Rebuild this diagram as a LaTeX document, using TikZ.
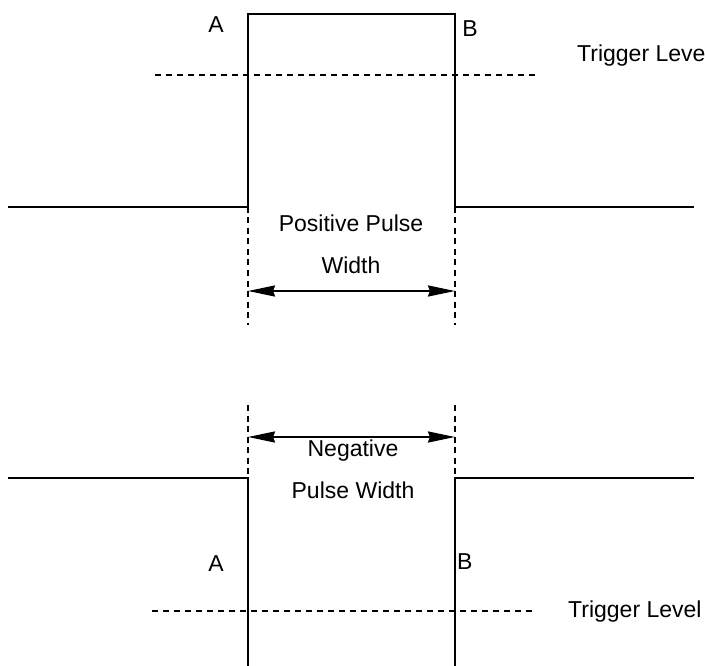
\documentclass[tikz,border=0pt]{standalone}
\usepackage{fontspec}
\setmainfont{Liberation Sans}
\usetikzlibrary{arrows.meta}
\begin{document}
\begin{tikzpicture}[x=1pt,y=-1pt,
  wave/.style={line width=2pt, line join=miter},
  trig/.style={line width=1.5pt, dash pattern=on 6pt off 5pt},
  guide/.style={line width=1.5pt, dash pattern=on 6pt off 4.5pt},
  meas/.style={line width=2.2pt, {Stealth[length=27pt,width=11pt,inset=2pt]}-{Stealth[length=27pt,width=11pt,inset=2pt]}},
  lbl/.style={font=\fontsize{23}{27}\selectfont, inner sep=0pt}]
\useasboundingbox (0,0) rectangle (705,666);
% top (positive pulse)
\coordinate (tl) at (8,207);
\coordinate (ta0) at (248,207);
\coordinate (ta1) at (248,14);
\coordinate (tb1) at (455,14);
\coordinate (tb0) at (455,207);
\coordinate (tr) at (694,207);
\draw[wave] (tl) -- (ta0) -- (ta1) -- (tb1) -- (tb0) -- (tr);
\coordinate (tt0) at (155,75);
\coordinate (tt1) at (537,75);
\draw[trig] (tt0) -- (tt1);
\coordinate (tga) at (248,325);
\coordinate (tgb) at (455,325);
\draw[guide] (ta0) -- (tga);
\draw[guide] (tb0) -- (tgb);
\coordinate (pa) at (248,291);
\coordinate (pb) at (455,291);
\draw[meas] (pa) -- (pb);
\node[lbl, anchor=base] (tA) at (216,33) {A};
\node[lbl, anchor=base] (tB) at (470,37) {B};
\node[lbl, anchor=base west] (tT) at (577,62) {Trigger Leve};
\node[lbl, anchor=base] (pp1) at (351,232) {Positive Pulse};
\node[lbl, anchor=base] (pp2) at (351,273) {Width};
% bottom (negative pulse)
\coordinate (bl) at (8,478);
\coordinate (ba0) at (248,478);
\coordinate (ba1) at (248,666);
\coordinate (bb1) at (455,666);
\coordinate (bb0) at (455,478);
\coordinate (br) at (694,478);
\draw[wave] (bl) -- (ba0) -- (ba1);
\draw[wave] (bb1) -- (bb0) -- (br);
\coordinate (bt0) at (152,611);
\coordinate (bt1) at (535,611);
\draw[trig] (bt0) -- (bt1);
\coordinate (bga) at (248,405);
\coordinate (bgb) at (455,405);
\draw[guide] (bga) -- (ba0);
\draw[guide] (bgb) -- (bb0);
\coordinate (na) at (248,437);
\coordinate (nb) at (455,437);
\draw[meas] (na) -- (nb);
\node[lbl, anchor=base] (bA) at (216,571) {A};
\node[lbl, anchor=base west] (bB) at (457,569) {B};
\node[lbl, anchor=base west] (bT) at (568,617) {Trigger Level};
\node[lbl, anchor=base] (np1) at (353,456) {Negative};
\node[lbl, anchor=base] (np2) at (353,498) {Pulse Width};
\end{tikzpicture}
\end{document}
